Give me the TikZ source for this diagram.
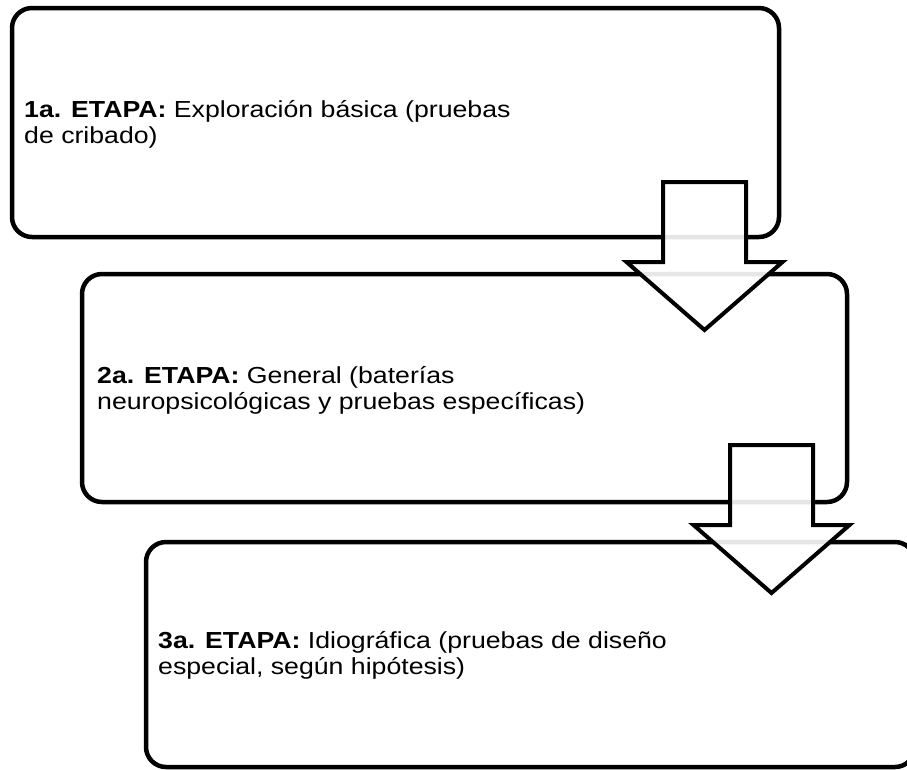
\documentclass[tikz,border=0pt]{standalone}
\usepackage{fontspec}
\setmainfont[FakeStretch=1.15]{Liberation Sans}
\usetikzlibrary{calc}

\tikzset{
  stagebox/.style={draw=black, line width=4.5pt, rounded corners=20pt, fill=white, outer sep=0pt, inner sep=0pt, anchor=north west},
  stagetext/.style={anchor=base west, align=left, inner sep=0pt, font=\fontsize{23.2}{26}\selectfont},
  stagearrow/.style={draw=black, line width=4pt, fill=white, fill opacity=0.9, line join=miter}
}

% block arrow pointing down, #1 = top centre of its shaft
\newcommand{\blockarrow}[1]{%
  \draw[stagearrow, shift={(#1)}] (-41.5,0) -- (41.5,0) -- (41.5,80) -- (78,80)
    -- (0,148) -- (-78,80) -- (-41.5,80) -- cycle;}

\begin{document}
\begin{tikzpicture}[x=1pt, y=-1pt]
        \useasboundingbox (0,0) rectangle (907,769);
        % the three stages
        \node[stagebox, minimum width=767pt, minimum height=229pt] (s1) at (12,8) {};
        \node[stagebox, minimum width=765pt, minimum height=228pt] (s2) at (82,274) {};
        \node[stagebox, minimum width=769pt, minimum height=225pt] (s3) at (146,542) {};
        % text sits on the baseline of its last line
        \node[stagetext] (t1) at (24,143) {\textbf{1a. ETAPA:} Exploración básica (pruebas\\de cribado)};
        \node[stagetext] (t2) at (97,409) {\textbf{2a. ETAPA:} General (baterías\\neuropsicológicas y pruebas específicas)};
        \node[stagetext] (t3) at (158,674) {\textbf{3a. ETAPA:} Idiográfica (pruebas de diseño\\especial, según hipótesis)};
        % arrows between the stages
        \coordinate (a1) at (704.5,182);
        \coordinate (a2) at (771.5,445);
        \blockarrow{a1}
        \blockarrow{a2}
\end{tikzpicture}
\end{document}
